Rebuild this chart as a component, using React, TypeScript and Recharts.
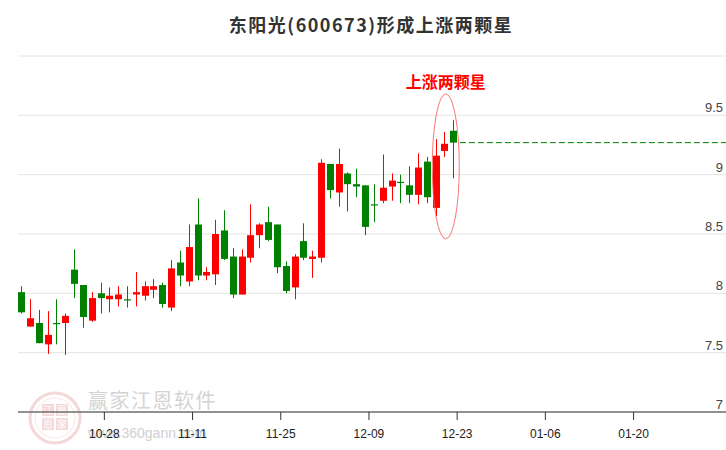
import { ComposedChart, Bar, XAxis, YAxis, CartesianGrid, ReferenceLine, ReferenceDot } from 'recharts';

// trading days (2024), one candle each
const DATES = [
  '10-15', '10-16', '10-17', '10-18', '10-21', '10-22', '10-23', '10-24', '10-25', '10-28',
  '10-29', '10-30', '10-31', '11-01', '11-04', '11-05', '11-06', '11-07', '11-08', '11-11',
  '11-12', '11-13', '11-14', '11-15', '11-18', '11-19', '11-20', '11-21', '11-22', '11-25',
  '11-26', '11-27', '11-28', '11-29', '12-02', '12-03', '12-04', '12-05', '12-06', '12-09',
  '12-10', '12-11', '12-12', '12-13', '12-16', '12-17', '12-18', '12-19', '12-20', '12-23',
];

const OPEN = [
  8.01, 7.72, 7.75, 7.57, 7.75, 7.75, 8.2, 8.07, 7.77, 8.0,
  7.95, 7.95, 7.95, 7.99, 7.98, 8.03, 8.07, 7.88, 8.26, 8.1,
  8.58, 8.15, 8.16, 8.53, 8.31, 7.99, 8.3, 8.49, 8.6, 8.58,
  8.23, 8.05, 8.44, 8.29, 8.3, 9.09, 8.85, 9.01, 8.92, 8.91,
  8.75, 8.78, 8.9, 8.94, 8.91, 8.83, 9.11, 8.72, 9.2, 9.37,
];
const CLOSE = [
  7.84, 7.79, 7.58, 7.65, 7.74, 7.81, 8.08, 7.8, 7.96, 7.96,
  7.98, 7.99, 7.94, 8.01, 8.06, 8.06, 7.91, 8.21, 8.15, 8.39,
  8.15, 8.18, 8.5, 8.29, 7.99, 8.31, 8.49, 8.58, 8.45, 8.22,
  8.02, 8.31, 8.3, 8.31, 9.1, 8.87, 9.09, 8.92, 8.9, 8.56,
  8.74, 8.89, 8.95, 8.93, 8.83, 9.06, 8.81, 9.16, 9.26, 9.27,
];
const HIGH = [
  8.06, 7.95, 7.86, 7.85, 7.95, 7.83, 8.37, 8.07, 8.01, 8.09,
  8.05, 8.06, 8.06, 8.18, 8.1, 8.12, 8.09, 8.28, 8.36, 8.58,
  8.8, 8.22, 8.62, 8.7, 8.38, 8.37, 8.75, 8.59, 8.73, 8.58,
  8.27, 8.33, 8.59, 8.36, 9.13, 9.09, 9.22, 9.02, 9.05, 8.91,
  8.92, 9.17, 9.01, 9.0, 9.07, 9.18, 9.15, 9.3, 9.36, 9.46,
];
const LOW = [
  7.83, 7.72, 7.58, 7.49, 7.57, 7.48, 7.96, 7.71, 7.76, 7.83,
  7.84, 7.89, 7.88, 7.89, 7.94, 7.96, 7.88, 7.85, 8.06, 8.06,
  8.11, 8.11, 8.07, 8.28, 7.96, 7.99, 8.26, 8.38, 8.44, 8.17,
  8.0, 7.95, 8.28, 8.13, 8.26, 8.8, 8.73, 8.69, 8.81, 8.49,
  8.6, 8.76, 8.78, 8.76, 8.76, 8.75, 8.76, 8.65, 9.15, 8.97,
];

// x axis: slot index of each labelled date (01-06, 01-20 are future slots)
const TICK_LABELS = ['10-28', '11-11', '11-25', '12-09', '12-23', '01-06', '01-20'];
const TICK_SLOTS = [9, 19, 29, 39, 49, 59, 69];
const Y_TICKS = [7, 7.5, 8, 8.5, 9, 9.5];

const PATTERN_NAME = '上涨两颗星';
const TITLE = '东阳光(600673)形成上涨两颗星';

const W = 726;
const H = 450;
const TICK_SHIFT = 0.39;
const X_DOMAIN: [number, number] = [-0.4, 79.87];

const data = DATES.map((d, i) => ({
  idx: i,
  date: d,
  open: OPEN[i],
  close: CLOSE[i],
  high: HIGH[i],
  low: LOW[i],
  range: [LOW[i], HIGH[i]],
}));

const lastIdx = data.length - 1;
const lastClose = CLOSE[lastIdx];

const Candle = (props: any) => {
  const { x, y, width, height, payload } = props;
  if (!payload) return null;
  const { open, close, high, low } = payload;
  const top = Math.min(y, y + height);
  const h = Math.abs(height);
  const k = high === low ? 0 : h / (high - low);
  const py = (v: number) => top + (high - v) * k;
  const color = close >= open ? '#ff0000' : '#008000';
  const bw = Math.round(width);
  const bx = Math.round(x);
  const bTop = py(Math.max(open, close));
  const bH = Math.max(1, Math.abs(py(open) - py(close)));
  return (
    <g>
      <rect x={bx + Math.floor(bw / 2)} y={top} width={1} height={Math.max(1, h)} fill={color} />
      <rect x={bx} y={bTop} width={bw} height={bH} fill={color} />
    </g>
  );
};

const XTick = (props: any) => {
  const { x, y, payload } = props;
  const i = TICK_SLOTS.findIndex((s) => Math.abs(s + TICK_SHIFT - payload.value) < 0.01);
  return (
    <text x={x} y={y + 16} textAnchor="middle" fontSize={12} fill="#222" fontFamily="'Liberation Sans', Arial, sans-serif">
      {TICK_LABELS[i]}
    </text>
  );
};

const YTick = (props: any) => {
  const { y, payload } = props;
  return (
    <text x={W - 3} y={y - 3} textAnchor="end" fontSize={13} fill="#444" fontFamily="'Liberation Sans', Arial, sans-serif">
      {String(payload.value)}
    </text>
  );
};

const PatternMark = (props: any) => {
  const { cx, cy } = props;
  return (
    <g>
      <ellipse cx={cx} cy={cy} rx={13.5} ry={72.5} fill="none" stroke="#ff5a5a" strokeOpacity={0.85} strokeWidth={1} />
      <text
        x={cx}
        y={cy - 78.5}
        textAnchor="middle"
        fontSize={16}
        fontWeight="bold"
        fill="#ff0000"
        fontFamily="'Noto Sans CJK SC', sans-serif"
      >
        {PATTERN_NAME}
      </text>
    </g>
  );
};

const Backdrop = () => (
  <svg width={W} height={H} style={{ position: 'absolute', left: 0, top: 0 }}>
    <text
      x={371}
      y={32}
      textAnchor="middle"
      fontSize={18}
      fontWeight="bold"
      fill="#333"
      letterSpacing={1.5}
      fontFamily="'Noto Sans CJK SC', sans-serif"
    >
      {TITLE}
    </text>
    {/* watermark */}
    <g opacity={0.45}>
      <circle cx={55} cy={418} r={25} fill="none" stroke="#e8a8a8" strokeWidth={3} />
      <circle cx={55} cy={418} r={20} fill="none" stroke="#f2caca" strokeWidth={1} />
      <rect x={42} y={404} width={12} height={12} fill="#eaaaaa" />
      <rect x={56} y={404} width={12} height={12} fill="#eaaaaa" />
      <rect x={42} y={418} width={12} height={12} fill="#eaaaaa" />
      <rect x={56} y={418} width={12} height={12} fill="#eaaaaa" />
      <g fontSize={10} fill="#fff" textAnchor="middle" fontFamily="'Noto Sans CJK SC', sans-serif">
        <text x={48} y={414}>江</text>
        <text x={62} y={414}>赢</text>
        <text x={48} y={428}>恩</text>
        <text x={62} y={428}>家</text>
      </g>
    </g>
    <text x={88} y={408} fontSize={20} letterSpacing={1.5} fill="#d4d4d4" fontFamily="'Noto Sans CJK SC', sans-serif">
      赢家江恩软件
    </text>
    <text x={88} y={438} fontSize={14} fill="#d0d0d0" fontFamily="'Liberation Sans', Arial, sans-serif">
      www.360gann.com
    </text>
  </svg>
);

export default function App() {
  return (
    <div style={{ position: 'fixed', left: 0, top: 0, width: W, height: H, background: '#fff' }}>
      <Backdrop />
      <div style={{ position: 'absolute', left: 0, top: 0 }}>
        <ComposedChart width={W} height={H} data={data} margin={{ top: 56, right: 0, left: 18, bottom: 0 }}>
          <CartesianGrid vertical={false} stroke="#e4e4e4" />
          <XAxis
            dataKey="idx"
            type="number"
            domain={X_DOMAIN}
            ticks={TICK_SLOTS.map((s) => s + TICK_SHIFT)}
            height={38}
            tick={<XTick />}
            tickSize={8}
            tickLine={{ stroke: '#333' }}
            axisLine={{ stroke: '#333' }}
            interval={0}
          />
          <YAxis
            type="number"
            orientation="right"
            mirror
            domain={[7, 10]}
            ticks={Y_TICKS}
            width={30}
            axisLine={false}
            tickLine={false}
            tick={<YTick />}
            interval={0}
          />
          <Bar dataKey="range" barSize={7} shape={<Candle />} isAnimationActive={false} />
          <ReferenceLine
            segment={[
              { x: lastIdx + 0.7, y: lastClose },
              { x: X_DOMAIN[1], y: lastClose },
            ]}
            stroke="#008000"
            strokeDasharray="6 3"
          />
          <ReferenceDot x={lastIdx - 0.9} y={9.07} shape={<PatternMark />} />
        </ComposedChart>
      </div>
    </div>
  );
}
